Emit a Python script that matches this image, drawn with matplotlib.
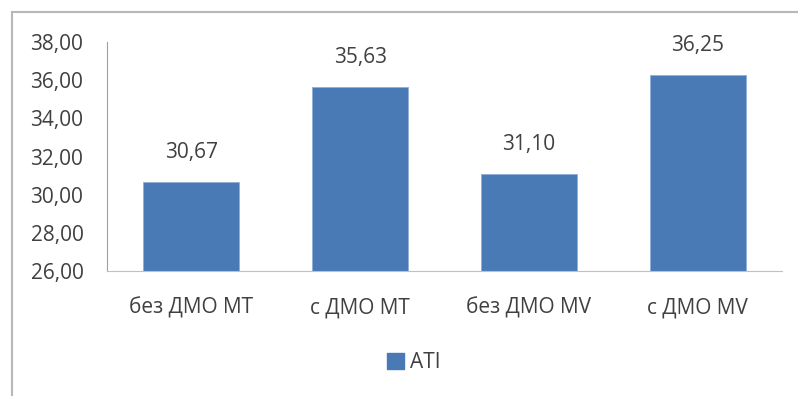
import matplotlib
matplotlib.use('Agg')
import matplotlib.pyplot as plt
from matplotlib.lines import Line2D
from matplotlib.patches import Patch

categories = ['без ДМО МТ', 'с ДМО МТ', 'без ДМО MV', 'с ДМО MV']
values = [30.67, 35.63, 31.10, 36.25]
series_name = 'ATI'
yticks = [26, 28, 30, 32, 34, 36, 38]

plt.rcParams['font.family'] = ['Open Sans', 'DejaVu Sans']
txt = '#404040'
blue = '#4A7AB5'
fs = 15

fig = plt.figure(figsize=(7.98, 3.96), dpi=100)
ax = fig.add_axes([107 / 798, 1 - 271 / 396, 675 / 798, 229 / 396])

x = range(len(categories))
ax.bar(x, values, width=0.57, bottom=0, color=blue, edgecolor='#8fb0d8', linewidth=0.6)
for i, v in zip(x, values):
    ax.text(i, v + 1.55, f'{v:.2f}'.replace('.', ','), ha='center', va='center',
            fontsize=fs, color=txt)

ax.set_ylim(26, 38)
ax.set_xlim(-0.5, 3.5)
ax.set_yticks(yticks)
ax.set_yticklabels([f'{t:.2f}'.replace('.', ',') for t in yticks], fontsize=fs, color=txt)
ax.set_xticks(list(x))
ax.set_xticklabels(categories, fontsize=fs, color=txt)
ax.tick_params(axis='y', length=0, pad=17)
ax.tick_params(axis='x', length=0, pad=19)
for s in ['top', 'right']:
    ax.spines[s].set_visible(False)
ax.spines['left'].set_color('#a0a0a0')
ax.spines['bottom'].set_color('#c0c0c0')

fig.legend(handles=[Patch(color=blue, label=series_name)], loc='center',
           bbox_to_anchor=(414 / 798, 1 - 363 / 396), frameon=False,
           fontsize=fs, labelcolor=txt, handlelength=0.8, handleheight=0.8,
           handletextpad=0.3)

# outer frame (only top and left visible in the original)
fig.add_artist(Line2D([12 / 798, 1], [1 - 12 / 396, 1 - 12 / 396], color='#b8b8b8', lw=1.5))
fig.add_artist(Line2D([12 / 798, 12 / 798], [0, 1 - 12 / 396], color='#b8b8b8', lw=1.5))

fig.savefig('out.png', dpi=100)
